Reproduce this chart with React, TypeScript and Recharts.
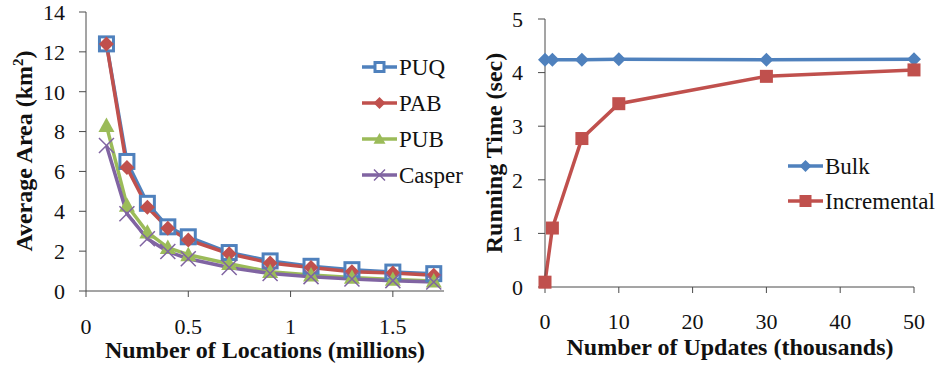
import React from "react";
import { LineChart, Line, XAxis, YAxis, Legend } from "recharts";

// Left panel: average cloaked area vs. number of locations
const locations = [0.1, 0.2, 0.3, 0.4, 0.5, 0.7, 0.9, 1.1, 1.3, 1.5, 1.7];
const puq = [12.4, 6.5, 4.4, 3.22, 2.72, 1.93, 1.51, 1.24, 1.07, 0.95, 0.87];
const pab = [12.4, 6.2, 4.2, 3.15, 2.56, 1.87, 1.41, 1.18, 0.97, 0.9, 0.79];
const pub = [8.3, 4.3, 2.95, 2.18, 1.82, 1.37, 0.97, 0.8, 0.68, 0.58, 0.5];
const casper = [7.3, 3.88, 2.62, 1.98, 1.62, 1.18, 0.88, 0.72, 0.6, 0.52, 0.45];
const locTicks = [0, 0.5, 1, 1.5];
const areaTicks = [0, 2, 4, 6, 8, 10, 12, 14];

// Right panel: running time vs. number of updates
const updates = [0, 1, 5, 10, 30, 50];
const bulk = [4.24, 4.24, 4.24, 4.25, 4.24, 4.25];
const incremental = [0.09, 1.1, 2.77, 3.42, 3.93, 4.05];
const updTicks = [0, 10, 20, 30, 40, 50];
const timeTicks = [0, 1, 2, 3, 4, 5];

const FONT = "'Liberation Serif', 'Times New Roman', serif";
const AXIS = "#4a4a4a";
const BLUE = "#4f81bd";
const RED = "#c0504d";
const GREEN = "#9bbb59";
const PURPLE = "#8064a2";

const areaRows = locations.map((x, i) => ({
  x,
  PUQ: puq[i],
  PAB: pab[i],
  PUB: pub[i],
  Casper: casper[i],
}));

const timeRows = updates.map((x, i) => ({
  x,
  Bulk: bulk[i],
  Incremental: incremental[i],
}));

type Kind = "square-open" | "square" | "diamond" | "triangle" | "x";

function Marker({ kind, x, y, color, s }: { kind: Kind; x: number; y: number; color: string; s: number }) {
  const h = s / 2;
  switch (kind) {
    case "square-open":
      return <rect x={x - h} y={y - h} width={s} height={s} fill="#fff" stroke={color} strokeWidth={3} />;
    case "square":
      return <rect x={x - h} y={y - h} width={s} height={s} fill={color} />;
    case "diamond":
      return <polygon points={`${x},${y - h} ${x + h},${y} ${x},${y + h} ${x - h},${y}`} fill={color} />;
    case "triangle":
      return <polygon points={`${x},${y - h} ${x + h},${y + h * 0.8} ${x - h},${y + h * 0.8}`} fill={color} />;
    case "x":
      return (
        <path
          d={`M${x - h},${y - h}L${x + h},${y + h}M${x - h},${y + h}L${x + h},${y - h}`}
          stroke={color}
          strokeWidth={1.5}
          fill="none"
        />
      );
  }
}

function dotFor(kind: Kind, color: string, s: number) {
  return (p: any) => (
    <g key={`${kind}-${p.index}`}>
      <Marker kind={kind} x={p.cx} y={p.cy} color={color} s={s} />
    </g>
  );
}

type LegendItem = { name: string; kind: Kind; color: string; s: number };

function legendContent(items: LegendItem[], step: number) {
  return () => (
    <svg width={130} height={items.length * step + 10} style={{ display: "block", overflow: "visible" }}>
      {items.map((it, i) => {
        const cy = 19 + i * step;
        return (
          <g key={it.name}>
            <line x1={2} x2={37} y1={cy} y2={cy} stroke={it.color} strokeWidth={3.5} />
            <Marker kind={it.kind} x={19.5} y={cy} color={it.color} s={it.s} />
            <text x={39} y={cy + 8} fontFamily={FONT} fontSize={23} fill="#111">
              {it.name}
            </text>
          </g>
        );
      })}
    </svg>
  );
}

const leftLegend: LegendItem[] = [
  { name: "PUQ", kind: "square-open", color: BLUE, s: 9 },
  { name: "PAB", kind: "diamond", color: RED, s: 12 },
  { name: "PUB", kind: "triangle", color: GREEN, s: 12 },
  { name: "Casper", kind: "x", color: PURPLE, s: 11 },
];

const rightLegend: LegendItem[] = [
  { name: "Bulk", kind: "diamond", color: BLUE, s: 12 },
  { name: "Incremental", kind: "square", color: RED, s: 12 },
];

const tickStyle = { fontFamily: FONT, fontSize: 22, fill: "#111" };

export default function App() {
  return (
    <div style={{ position: "absolute", left: 0, top: 0, width: 939, height: 367, background: "#fff" }}>
      <div style={{ position: "absolute", left: 0, top: 0 }}>
        <LineChart width={470} height={367} data={areaRows} margin={{ top: 12, right: 26, bottom: 0, left: 0 }}>
          <XAxis
            type="number"
            dataKey="x"
            domain={[0, 1.75]}
            ticks={locTicks}
            height={76}
            tickSize={6}
            tickMargin={21}
            tick={tickStyle}
            stroke={AXIS}
            interval={0}
          />
          <YAxis
            type="number"
            domain={[0, 14]}
            ticks={areaTicks}
            width={86}
            tickSize={7}
            tickMargin={14}
            tick={tickStyle}
            stroke={AXIS}
            interval={0}
          />
          <Legend
            layout="horizontal"
            verticalAlign="middle"
            align="center"
            wrapperStyle={{ left: 360, top: 48, width: 110, height: 150 }}
            content={legendContent(leftLegend, 36)}
          />
          <Line dataKey="PUQ" stroke={BLUE} strokeWidth={3.5} dot={dotFor("square-open", BLUE, 14)} isAnimationActive={false} />
          <Line dataKey="PAB" stroke={RED} strokeWidth={3.5} dot={dotFor("diamond", RED, 15)} isAnimationActive={false} />
          <Line dataKey="PUB" stroke={GREEN} strokeWidth={3.5} dot={dotFor("triangle", GREEN, 16)} isAnimationActive={false} />
          <Line dataKey="Casper" stroke={PURPLE} strokeWidth={3.5} dot={dotFor("x", PURPLE, 15)} isAnimationActive={false} />
        </LineChart>
      </div>

      <div style={{ position: "absolute", left: 470, top: 0 }}>
        <LineChart width={469} height={367} data={timeRows} margin={{ top: 19, right: 25, bottom: 0, left: 0 }}>
          <XAxis
            type="number"
            dataKey="x"
            domain={[0, 50]}
            ticks={updTicks}
            height={80}
            tickSize={6}
            tickMargin={20}
            tick={tickStyle}
            stroke={AXIS}
            interval={0}
          />
          <YAxis
            type="number"
            domain={[0, 5]}
            ticks={timeTicks}
            width={75}
            tickSize={7}
            tickMargin={15}
            tick={tickStyle}
            stroke={AXIS}
            interval={0}
          />
          <Legend
            layout="horizontal"
            verticalAlign="middle"
            align="center"
            wrapperStyle={{ left: 316, top: 147, width: 150, height: 80 }}
            content={legendContent(rightLegend, 35)}
          />
          <Line dataKey="Bulk" stroke={BLUE} strokeWidth={3.5} dot={dotFor("diamond", BLUE, 14)} isAnimationActive={false} />
          <Line dataKey="Incremental" stroke={RED} strokeWidth={3.5} dot={dotFor("square", RED, 13)} isAnimationActive={false} />
        </LineChart>
      </div>

      <svg width={939} height={367} style={{ position: "absolute", left: 0, top: 0, pointerEvents: "none" }}>
        <g fontFamily={FONT} fontWeight="bold" fontSize={24} fill="#111" textAnchor="middle">
          <text x={265} y={358}>Number of Locations (millions)</text>
          <text x={730} y={355}>Number of Updates (thousands)</text>
          <text transform="translate(32,151) rotate(-90)">
            Average Area (km<tspan dy={-9} fontSize={15}>2</tspan>
            <tspan dy={9}>)</tspan>
          </text>
          <text transform="translate(502,153) rotate(-90)">Running Time (sec)</text>
        </g>
      </svg>
    </div>
  );
}
